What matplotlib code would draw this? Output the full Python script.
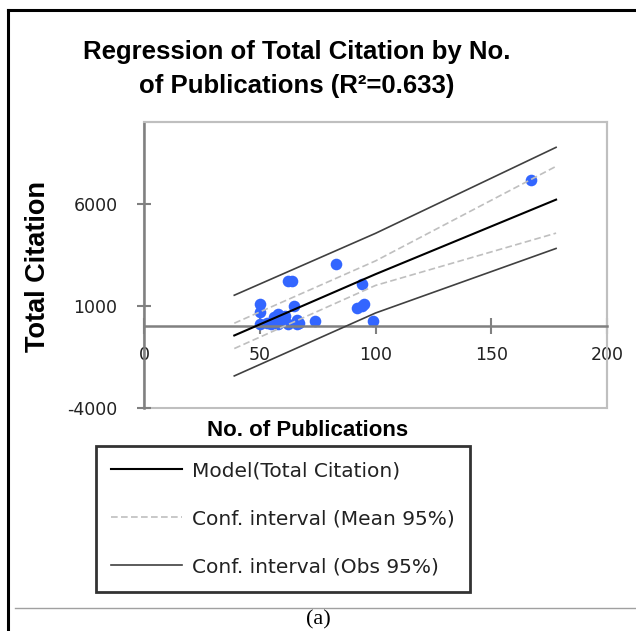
import matplotlib.pyplot as plt
from matplotlib.lines import Line2D
from matplotlib.patches import Rectangle

plt.rcParams['axes.unicode_minus'] = False

# dados
pubs = [167, 83, 62, 64, 94, 50, 50, 65, 92, 95, 94, 74, 99, 50, 53, 56, 58, 59, 61, 55, 58, 66, 67, 66, 62]
cites = [7150, 3050, 2200, 2200, 2050, 1100, 700, 1000, 900, 1100, 1000, 260, 260, 130, 180, 450, 600, 430, 520, 100, 100, 300, 180, 100, 120]

x_fit = [39, 100, 178]
model = [-450, 2550, 6200]
mean_up = [150, 3200, 7830]
mean_lo = [-1090, 2000, 4560]
obs_up = [1520, 4550, 8760]
obs_lo = [-2430, 650, 3810]

x_ticks = [0, 50, 100, 150, 200]
y_ticks = [-4000, 1000, 6000]

fig = plt.figure(figsize=(6.36, 6.31), dpi=100)
ax = fig.add_axes([144 / 636, 1 - 408 / 631, 463 / 636, 286 / 631])

ax.scatter(pubs, cites, s=70, color='#3366FF', zorder=2, linewidths=0)
ax.plot(x_fit, model, color='black', lw=1.5, zorder=3)
ax.plot(x_fit, mean_up, color='#BFBFBF', lw=1.2, ls=(0, (4, 2)), zorder=3)
ax.plot(x_fit, mean_lo, color='#BFBFBF', lw=1.2, ls=(0, (4, 2)), zorder=3)
ax.plot(x_fit, obs_up, color='#404040', lw=1.2, zorder=3)
ax.plot(x_fit, obs_lo, color='#404040', lw=1.2, zorder=3)

ax.set_xlim(0, 200)
ax.set_ylim(-4000, 10000)
ax.set_xticks(x_ticks)
ax.set_yticks(y_ticks)

for s in ['top', 'right']:
    ax.spines[s].set_color('#BFBFBF')
    ax.spines[s].set_linewidth(1.5)
ax.spines['left'].set_color('#808080')
ax.spines['left'].set_linewidth(1.8)
ax.spines['bottom'].set_position(('data', 0))
ax.spines['bottom'].set_color('#808080')
ax.spines['bottom'].set_linewidth(1.8)
ax.add_patch(Rectangle((0, 0), 1, 1, transform=ax.transAxes, fill=False,
                       edgecolor='#BFBFBF', lw=1.5, clip_on=False, zorder=0))

ax.tick_params(axis='x', direction='inout', length=11, width=1.5, color='#808080',
               labelsize=12.5, pad=9, labelcolor='#222222')
ax.tick_params(axis='y', direction='inout', length=10, width=1.5, color='#808080',
               labelsize=12.5, pad=14, labelcolor='#222222')
for lab in ax.get_xticklabels() + ax.get_yticklabels():
    lab.set_family('DejaVu Sans')

fig.text(297 / 636, 1 - 69 / 631, 'Regression of Total Citation by No.\nof Publications (R²=0.633)',
         ha='center', va='center', fontsize=18.5, fontweight='bold', family='Liberation Sans',
         linespacing=1.5)
fig.text(38 / 636, 1 - 266 / 631, 'Total Citation', rotation=90, ha='center', va='center',
         fontsize=19.5, fontweight='bold', family='Liberation Sans')
fig.text(308 / 636, 1 - 430 / 631, 'No. of Publications', ha='center', va='center',
         fontsize=16, fontweight='bold', family='Liberation Sans')

handles = [Line2D([], [], color='black', lw=1.5),
           Line2D([], [], color='#BFBFBF', lw=1.2, ls=(0, (4, 2))),
           Line2D([], [], color='#404040', lw=1.2)]
labels = ['Model(Total Citation)', 'Conf. interval (Mean 95%)', 'Conf. interval (Obs 95%)']
leg = fig.legend(handles, labels, loc='upper left', bbox_to_anchor=(96 / 636, 1 - 446 / 631),
                 fontsize=14.5, frameon=True, fancybox=False, edgecolor='black',
                 handlelength=3.5, handletextpad=0.5, labelspacing=1.45, borderpad=0.75,
                 borderaxespad=0)
leg.get_frame().set_linewidth(2)
for t in leg.get_texts():
    t.set_color('#222222')

# moldura e linha inferior
fig.add_artist(Line2D([8 / 636, 1], [1 - 10 / 631, 1 - 10 / 631], color='black', lw=2.2))
fig.add_artist(Line2D([8 / 636, 8 / 636], [0, 1 - 10 / 631], color='black', lw=2.2))
fig.add_artist(Line2D([15 / 636, 1], [1 - 608 / 631, 1 - 608 / 631], color='#A0A0A0', lw=1))
fig.text(318 / 636, 1 - 620 / 631, '(a)', ha='center', va='center', fontsize=16,
         family='Liberation Serif')

fig.savefig('out.png', dpi=100)
